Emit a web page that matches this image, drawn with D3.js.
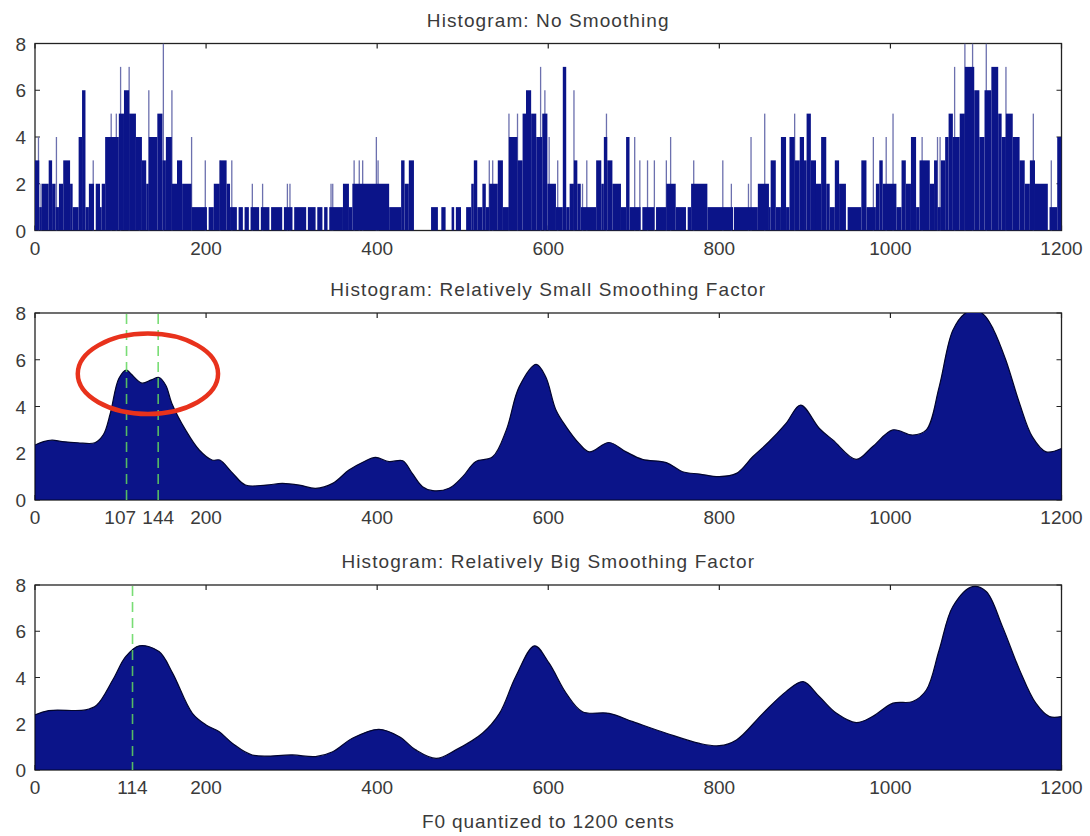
<!DOCTYPE html>
<html>
<head>
<meta charset="utf-8">
<script src="https://cdn.jsdelivr.net/npm/d3@7"></script>
<style>
body { margin: 0; background: #fff; }
text { font-family: "Liberation Sans", Arial, sans-serif; fill: #3a3a3a; }
</style>
</head>
<body>
<div id="chart"></div>
<script>
// raw histogram: runs of equal count (start cent, count), last run ends at 1200
var histStart = [0, 5, 8, 16, 20, 24, 28, 33, 41, 44, 51, 55, 59, 63, 69, 71, 76, 78, 82, 98,
  104, 110, 118, 125, 130, 133, 143, 149, 153, 160, 166, 172, 183, 201, 203, 209, 216, 224, 228, 236,
  238, 243, 245, 250, 252, 262, 264, 274, 276, 289, 291, 301, 303, 317, 319, 328, 330, 336, 338, 342,
  344, 360, 367, 371, 414, 428, 432, 437, 443, 463, 471, 475, 480, 487, 490, 492, 498, 504, 510, 513,
  517, 523, 527, 531, 541, 547, 554, 564, 570, 574, 580, 586, 593, 599, 609, 617, 621, 625, 630, 634,
  638, 656, 662, 665, 669, 675, 685, 691, 695, 708, 710, 724, 726, 738, 749, 761, 763, 767, 786, 816,
  817, 845, 858, 860, 866, 872, 878, 882, 888, 894, 899, 902, 907, 913, 919, 925, 929, 935, 940, 948,
  950, 966, 972, 983, 987, 991, 1007, 1013, 1018, 1024, 1030, 1034, 1046, 1051, 1055, 1059, 1064, 1068, 1073, 1081,
  1087, 1098, 1104, 1110, 1118, 1126, 1130, 1135, 1143, 1151, 1157, 1163, 1169, 1184, 1186, 1195];
var histCount = [3, 1, 2, 3, 2, 1, 2, 3, 2, 1, 4, 6, 1, 2, 0, 2, 1, 2, 4, 5,
  6, 5, 4, 3, 2, 4, 5, 3, 4, 2, 3, 2, 1, 0, 1, 2, 3, 2, 1, 0,
  1, 0, 1, 0, 1, 0, 1, 0, 1, 0, 1, 0, 1, 0, 1, 0, 1, 0, 1, 0,
  1, 2, 1, 2, 1, 3, 2, 3, 0, 1, 0, 1, 0, 1, 0, 1, 0, 1, 2, 3,
  1, 2, 1, 2, 3, 1, 4, 3, 5, 6, 5, 4, 5, 2, 1, 7, 1, 2, 3, 2,
  1, 3, 2, 4, 3, 2, 1, 4, 1, 0, 1, 0, 1, 2, 1, 0, 1, 2, 1, 0,
  1, 2, 1, 3, 1, 4, 1, 4, 3, 4, 3, 5, 3, 2, 4, 2, 1, 3, 2, 0,
  1, 3, 1, 2, 3, 2, 1, 3, 2, 4, 1, 3, 2, 3, 1, 3, 4, 5, 4, 5,
  7, 6, 4, 6, 7, 5, 4, 5, 4, 3, 2, 3, 2, 0, 1, 4];
// single-bin spikes standing above the runs
var spikeCent = [4, 7, 25, 68, 89, 95, 100, 110, 122, 133, 150, 160, 183, 199, 216, 230, 254, 266, 295, 298,
  346, 348, 373, 379, 383, 399, 401, 531, 535, 554, 564, 591, 596, 601, 611, 630, 640, 645, 668, 701,
  707, 716, 724, 738, 743, 770, 804, 814, 834, 837, 853, 888, 980, 995, 1003, 1037, 1055, 1058, 1075, 1087,
  1096, 1112, 1135, 1167, 1188];
var spikeCount = [4, 2, 4, 3, 5, 5, 7, 7, 4, 6, 8, 6, 4, 3, 3, 3, 2, 2, 2, 2,
  2, 2, 3, 3, 3, 4, 3, 3, 3, 5, 5, 7, 6, 4, 3, 6, 2, 3, 5, 4,
  3, 3, 3, 3, 4, 3, 3, 2, 2, 4, 5, 5, 4, 4, 5, 4, 4, 4, 7, 8,
  8, 8, 7, 5, 3];

// small smoothing factor
var smallCent = [0, 10, 20, 32, 50, 70, 80, 88, 98, 107, 112, 125, 136, 145, 153, 160, 176, 192, 207, 216, 231,
  246, 270, 289, 309, 328, 348, 367, 385, 398, 414, 430, 441, 453, 465, 484, 500, 515, 535, 551, 566,
  586, 597, 609, 621, 636, 648, 671, 691, 710, 738, 757, 777, 800, 820, 839, 858, 878, 895, 917, 933,
  960, 979, 1003, 1026, 1042, 1057, 1073, 1088, 1100, 1110, 1120, 1135, 1151, 1166, 1182, 1200];
var smallCount = [2.35, 2.5, 2.56, 2.5, 2.45, 2.45, 2.8, 3.7, 5.2, 5.56, 5.4, 5.0, 5.14, 5.24, 4.9, 4.13, 3.0, 2.14, 1.71, 1.71, 1.15,
  0.64, 0.64, 0.71, 0.64, 0.5, 0.71, 1.28, 1.65, 1.82, 1.64, 1.68, 1.14, 0.57, 0.4, 0.5, 1.0, 1.64, 1.85, 3.0, 4.84,
  5.8, 5.27, 3.85, 3.13, 2.42, 2.06, 2.46, 2.06, 1.74, 1.6, 1.21, 1.11, 1.0, 1.14, 1.85, 2.49, 3.28, 4.06, 3.06, 2.56,
  1.74, 2.28, 3.0, 2.78, 3.0, 4.84, 7.26, 8.0, 8.1, 7.9, 7.33, 5.98, 4.13, 2.7, 2.06, 2.2];
var smallPeaks = [107, 144];

// big smoothing factor
var bigCent = [0, 16, 59, 72, 91, 106, 122, 145, 161, 184, 200, 215, 231, 254, 301, 328, 348, 371, 402, 426,
  445, 469, 492, 523, 543, 562, 584, 601, 621, 640, 671, 699, 738, 777, 800, 820, 851, 878, 898, 917,
  937, 960, 979, 1003, 1026, 1042, 1057, 1073, 1096, 1112, 1131, 1151, 1170, 1186, 1200];
var bigCount = [2.38, 2.57, 2.6, 2.8, 3.9, 4.9, 5.37, 5.12, 4.18, 2.45, 1.95, 1.66, 1.15, 0.65, 0.65, 0.58, 0.79, 1.37, 1.76, 1.44,
  0.87, 0.5, 0.87, 1.59, 2.45, 4.04, 5.37, 4.62, 3.32, 2.52, 2.45, 2.09, 1.59, 1.15, 1.05, 1.3, 2.45, 3.39, 3.82, 3.17,
  2.45, 2.05, 2.31, 2.89, 2.96, 3.46, 5.19, 7.07, 7.93, 7.72, 6.2, 4.33, 2.89, 2.31, 2.31];
var bigPeaks = [114];

var xTicks = [0, 200, 400, 600, 800, 1000, 1200];
var yTicks = [0, 2, 4, 6, 8];
var titles = ["Histogram: No Smoothing",
  "Histogram: Relatively Small Smoothing Factor",
  "Histogram: Relatively Big Smoothing Factor"];
var xLabel = "F0 quantized to 1200 cents";

// red ring round the two close peaks (centre cent/count and half spans)
var ringCent = 132, ringCount = 5.4, ringHalfCents = 82, ringHalfCount = 1.72;

(function () {
    var width = 1090;
    var height = 836;
    var left = 35, right = 1061.5;
    var panelTop = [43.5, 313, 585];
    var panelBottom = [230.5, 500, 770];
    var navy = "#0b1489";

    var svg = d3.select("#chart").append("svg")
        .attr("width", width).attr("height", height);

    var x = d3.scaleLinear().domain([0, 1200]).range([left, right]);

    var histRuns = histStart.map(function (s, i) {
        return { start: s, end: i + 1 < histStart.length ? histStart[i + 1] : 1200, count: histCount[i] };
    });
    var spikes = spikeCent.map(function (c, i) { return { cent: c, count: spikeCount[i] }; });
    var smallData = smallCent.map(function (c, i) { return { cent: c, count: smallCount[i] }; });
    var bigData = bigCent.map(function (c, i) { return { cent: c, count: bigCount[i] }; });

    var panels = [
        { title: titles[0], labels: xTicks },
        { title: titles[1], labels: [0].concat(smallPeaks, xTicks.slice(1)), curve: smallData, peaks: smallPeaks },
        { title: titles[2], labels: [0].concat(bigPeaks, xTicks.slice(1)), curve: bigData, peaks: bigPeaks }
    ];

    // push crowded tick labels apart (earlier one moves left)
    function labelPos(labels) {
        var pos = labels.map(function (d) { return x(d); });
        for (var k = pos.length - 2; k >= 0; k--) {
            if (pos[k + 1] - pos[k] < 38) pos[k] = pos[k + 1] - 38;
        }
        return pos;
    }

    panels.forEach(function (p, i) {
        var y = d3.scaleLinear().domain([0, 8]).range([panelBottom[i], panelTop[i]]);
        var g = svg.append("g");

        g.append("defs").append("clipPath").attr("id", "clip" + i)
            .append("rect").attr("x", left).attr("y", panelTop[i])
            .attr("width", right - left).attr("height", panelBottom[i] - panelTop[i]);

        // title
        g.append("text").attr("x", (left + right) / 2).attr("y", panelTop[i] - 17)
            .attr("text-anchor", "middle").style("font-size", "19px").style("letter-spacing", "1.1px")
            .text(p.title);

        // box
        g.append("rect").attr("x", left).attr("y", panelTop[i])
            .attr("width", right - left).attr("height", panelBottom[i] - panelTop[i])
            .attr("fill", "none").attr("stroke", "#222").attr("stroke-width", 1.3);

        // inward ticks on all four sides
        var tl = 5;
        g.selectAll(".xt").data(xTicks).enter().append("path")
            .attr("d", function (d) {
                return "M" + x(d) + "," + panelTop[i] + "v" + tl + "M" + x(d) + "," + panelBottom[i] + "v" + (-tl);
            })
            .attr("stroke", "#222").attr("stroke-width", 1.2);
        g.selectAll(".yt").data(yTicks).enter().append("path")
            .attr("d", function (d) {
                return "M" + left + "," + y(d) + "h" + tl + "M" + right + "," + y(d) + "h" + (-tl);
            })
            .attr("stroke", "#222").attr("stroke-width", 1.2);

        var plot = g.append("g").attr("clip-path", "url(#clip" + i + ")");

        if (!p.curve) {
            plot.selectAll(".spike").data(spikes).enter().append("rect")
                .attr("x", function (d) { return x(d.cent) - 0.6; })
                .attr("width", 1.3)
                .attr("y", function (d) { return y(d.count); })
                .attr("height", function (d) { return y(0) - y(d.count); })
                .attr("fill", "#6c70ae");
            plot.selectAll(".run").data(histRuns).enter().append("rect")
                .attr("x", function (d) { return x(d.start); })
                .attr("width", function (d) { return x(d.end) - x(d.start); })
                .attr("y", function (d) { return y(d.count); })
                .attr("height", function (d) { return y(0) - y(d.count); })
                .attr("fill", d => d.count > 0 ? navy : "#eeeef6");
        } else {
            var area = d3.area()
                .x(function (d) { return x(d.cent); })
                .y0(y(0))
                .y1(function (d) { return y(d.count); })
                .curve(d3.curveCatmullRom.alpha(0.5));
            plot.append("path").datum(p.curve)
                .attr("d", area)
                .attr("fill", navy)
                .attr("stroke", "#02052e").attr("stroke-width", 1.2);

            g.selectAll(".peak").data(p.peaks).enter().append("line")
                .attr("x1", d => x(d)).attr("x2", d => x(d))
                .attr("y1", panelTop[i] + 1).attr("y2", panelBottom[i])
                .attr("stroke", "#62d85e").attr("stroke-width", 1.6)
                .attr("stroke-dasharray", "10,6").attr("opacity", 0.85);
        }

        // tick labels
        var lp = labelPos(p.labels);
        g.selectAll(".xl").data(p.labels).enter().append("text")
            .attr("x", (d, k) => lp[k]).attr("y", panelBottom[i] + 24)
            .attr("text-anchor", "middle").style("font-size", "19px")
            .text(d => d);
        g.selectAll(".yl").data(yTicks).enter().append("text")
            .attr("x", left - 9).attr("y", d => y(d) + 7)
            .attr("text-anchor", "end").style("font-size", "19px")
            .text(d => d);

        if (i === 1) {
            g.append("ellipse")
                .attr("cx", x(ringCent)).attr("cy", y(ringCount))
                .attr("rx", x(ringCent + ringHalfCents) - x(ringCent))
                .attr("ry", y(0) - y(ringHalfCount))
                .attr("fill", "none").attr("stroke", "#e8321c").attr("stroke-width", 4.5);
        }
    });

    svg.append("text").attr("x", (left + right) / 2).attr("y", 828)
        .attr("text-anchor", "middle").style("font-size", "19px").style("letter-spacing", "0.9px")
        .text(xLabel);
})();
</script>
</body>
</html>
